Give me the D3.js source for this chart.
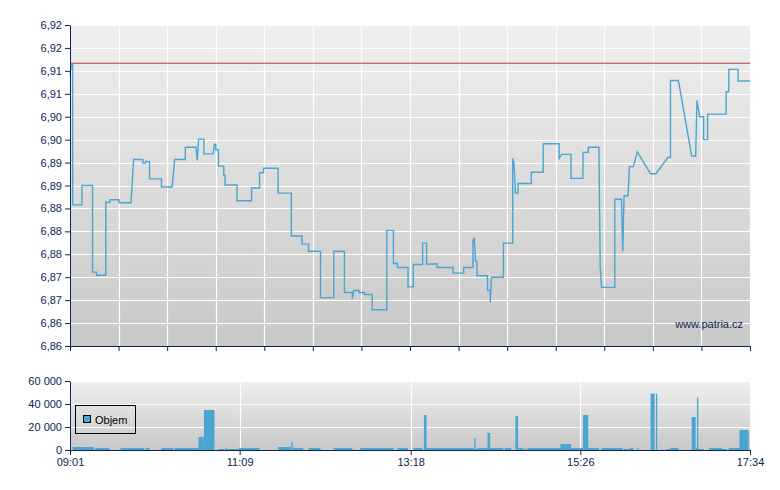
<!DOCTYPE html>
<html>
<head>
<meta charset="utf-8">
<script src="https://cdn.jsdelivr.net/npm/d3@7"></script>
<style>
body { margin: 0; background: #fff; }
svg text { font-family: "Liberation Sans", Arial, sans-serif; font-size: 11px; fill: #0c2557; }
</style>
</head>
<body>
<script>
// trades: time and price (line is drawn through them in order)
var priceTimes = [
  "09:01","09:02","09:03","09:03","09:10","09:10","09:18","09:18","09:21","09:21",
  "09:28","09:28","09:31","09:31","09:38","09:38","09:47","09:49","09:56","09:56",
  "09:58","09:58","10:01","10:01","10:10","10:10","10:18","10:20","10:28","10:28",
  "10:36","10:37","10:38","10:42","10:42","10:49","10:50","10:51","10:51","10:53",
  "10:53","10:57","10:57","10:58","10:58","11:07","11:07","11:18","11:18","11:24",
  "11:24","11:27","11:27","11:38","11:38","11:48","11:48","11:56","11:56","12:01",
  "12:01","12:10","12:10","12:20","12:20","12:28","12:28","12:34","12:34","12:35",
  "12:39","12:39","12:43","12:43","12:49","12:49","13:00","13:00","13:05","13:05",
  "13:08","13:08","13:16","13:16","13:20","13:20","13:27","13:27","13:30","13:30",
  "13:38","13:38","13:50","13:50","13:58","13:58","14:05","14:05","14:06","14:07",
  "14:08","14:08","14:16","14:16","14:18","14:18","14:19","14:28","14:28","14:35",
  "14:35","14:36","14:37","14:39","14:39","14:49","14:49","14:58","14:58","15:10",
  "15:10","15:12","15:19","15:19","15:28","15:28","15:32","15:32","15:40","15:41",
  "15:42","15:52","15:52","15:57","15:58","15:59","16:02","16:03","16:06","16:09",
  "16:19","16:23","16:32","16:34","16:34","16:40","16:50","16:53","16:54","16:56",
  "16:59","16:59","17:02","17:02","17:16","17:16","17:18","17:18","17:25","17:25",
  "17:34"
];
var prices = [
  6.9104,6.9124,6.9124,6.8849,6.8849,6.8887,6.8887,6.8717,6.8717,6.8711,
  6.8711,6.8854,6.8854,6.8859,6.8859,6.8853,6.8853,6.8938,6.8938,6.8931,
  6.8931,6.8934,6.8934,6.8900,6.8900,6.8884,6.8884,6.8938,6.8938,6.8962,
  6.8962,6.8936,6.8978,6.8978,6.8949,6.8949,6.8968,6.8968,6.8957,6.8957,
  6.8925,6.8925,6.8907,6.8907,6.8888,6.8888,6.8857,6.8857,6.8882,6.8882,
  6.8912,6.8912,6.8921,6.8921,6.8872,6.8872,6.8788,6.8788,6.8772,6.8772,
  6.8758,6.8758,6.8667,6.8667,6.8758,6.8758,6.8677,6.8677,6.8664,6.8681,
  6.8681,6.8677,6.8677,6.8673,6.8673,6.8643,6.8643,6.8799,6.8799,6.8734,
  6.8734,6.8726,6.8726,6.8688,6.8688,6.8732,6.8732,6.8774,6.8774,6.8733,
  6.8733,6.8726,6.8726,6.8715,6.8715,6.8726,6.8726,6.8780,6.8783,6.8738,
  6.8738,6.8710,6.8710,6.8681,6.8681,6.8658,6.8707,6.8707,6.8774,6.8774,
  6.8940,6.8931,6.8872,6.8872,6.8891,6.8891,6.8913,6.8913,6.8969,6.8969,
  6.8940,6.8948,6.8948,6.8901,6.8901,6.8952,6.8952,6.8962,6.8962,6.8729,
  6.8687,6.8687,6.8860,6.8860,6.8758,6.8867,6.8867,6.8924,6.8924,6.8953,
  6.8910,6.8910,6.8942,6.8942,6.9093,6.9093,6.8945,6.8945,6.9054,6.9022,
  6.9022,6.8977,6.8977,6.9027,6.9027,6.9071,6.9071,6.9115,6.9115,6.9092,
  6.9092
];
var prevClose = 6.9127;

var priceTicks = [6.8572,6.8617,6.8662,6.8707,6.8752,6.8797,6.8842,6.8887,
                  6.8932,6.8977,6.9022,6.9067,6.9112,6.9157,6.9202];

// volume bars: start, end, volume
var volStart = ["09:03","09:20","09:39","09:58","10:10","10:20","10:38","10:42","10:53","10:58",
                "10:59","11:08","11:38","11:48","11:49","12:01","12:20","12:40","13:08","13:20",
                "13:28","13:30","14:06","14:07","14:08","14:16","14:18","14:29","14:37","14:39",
                "14:44","14:46","15:11","15:19","15:28","15:32","15:42","15:59","16:03","16:09",
                "16:19","16:23","16:31","16:34","16:50","16:53","16:54","16:55","17:03","17:13",
                "17:18","17:26"];
var volEnd   = ["09:19","09:31","09:57","10:01","10:19","10:38","10:42","10:50","10:57","10:59",
                "11:08","11:24","11:48","11:49","11:57","12:10","12:34","13:05","13:16","13:27",
                "13:30","14:06","14:07","14:08","14:16","14:18","14:28","14:34","14:39","14:43",
                "14:45","15:11","15:19","15:28","15:32","15:40","15:58","16:03","16:06","16:10",
                "16:22","16:24","16:34","16:40","16:53","16:54","16:55","16:59","17:13","17:16",
                "17:26","17:33"];
var volumes  = [2600,1700,1700,1700,1700,1700,11300,34800,900,1700,
                900,1700,2600,7000,1700,1700,1700,1700,1700,1700,
                30400,1700,10400,900,1700,14800,1700,1700,29500,1700,
                1700,1700,5200,1700,30400,1700,1700,900,1700,1700,
                49000,49000,900,1700,28700,1700,45500,900,1700,900,
                1700,17400];
var volTicks = [0, 20000, 40000, 60000];
var timeLabels = ["09:01","11:09","13:18","15:26","17:34"];

var parseTime = d3.timeParse("%H:%M");
var fmtPrice = v => d3.format(".2f")(v).replace(".", ",");
var fmtVol = v => d3.format(",")(v).replace(/,/g, " ");

var svgWidth = 780, svgHeight = 490;
var left = 70, right = 750;
var priceTop = 25, priceBottom = 346;
var volTop = 381, volBottom = 450;
var axisColor = "#0c2557";
var blue = "#4aa6d1";

var svg = d3.select("body").append("svg")
    .attr("width", svgWidth)
    .attr("height", svgHeight);

var defs = svg.append("defs");
var grad = defs.append("linearGradient")
    .attr("id", "bg").attr("x1", 0).attr("y1", 0).attr("x2", 0).attr("y2", 1);
grad.append("stop").attr("offset", "0%").attr("stop-color", "#efefef");
grad.append("stop").attr("offset", "100%").attr("stop-color", "#c8c8c8");

var t0 = parseTime(timeLabels[0]), t1 = parseTime(timeLabels[timeLabels.length - 1]);
var x = d3.scaleTime().domain([t0, t1]).range([left, right]);
var y = d3.scaleLinear().domain([priceTicks[0], priceTicks[priceTicks.length - 1]])
    .range([priceBottom, priceTop]);
var yVol = d3.scaleLinear().domain([0, 60000]).range([volBottom, volTop]);

// 14 equal steps for the price chart grid
var gridTimes = d3.range(15).map(i => new Date(+t0 + i * (t1 - t0) / 14));

// ---------------- price chart ----------------
var priceG = svg.append("g");
priceG.append("rect")
    .attr("x", left).attr("y", priceTop)
    .attr("width", right - left).attr("height", priceBottom - priceTop)
    .attr("fill", "url(#bg)");

priceG.selectAll(".hgrid").data(priceTicks.slice(1)).enter()
    .append("line")
    .attr("x1", left).attr("x2", right)
    .attr("y1", d => Math.round(y(d)) + 0.5).attr("y2", d => Math.round(y(d)) + 0.5)
    .attr("stroke", "#fff").attr("stroke-width", 1.2);

priceG.selectAll(".vgrid").data(gridTimes.slice(1)).enter()
    .append("line")
    .attr("x1", d => Math.round(x(d)) + 0.5).attr("x2", d => Math.round(x(d)) + 0.5)
    .attr("y1", priceTop).attr("y2", priceBottom)
    .attr("stroke", "#fff").attr("stroke-width", 1.2);

priceG.append("line")
    .attr("x1", left).attr("x2", right)
    .attr("y1", y(prevClose)).attr("y2", y(prevClose))
    .attr("stroke", "#b8373a").attr("stroke-width", 1);

var trades = priceTimes.map((t, i) => ({t: parseTime(t), p: prices[i]}));
var line = d3.line().x(d => x(d.t)).y(d => y(d.p));
priceG.append("path")
    .datum(trades)
    .attr("d", line)
    .attr("fill", "none")
    .attr("stroke", blue)
    .attr("stroke-width", 1.4);

priceG.append("text")
    .attr("x", 743).attr("y", 328)
    .attr("text-anchor", "end")
    .text("www.patria.cz");

var yAxis = priceG.append("g")
    .attr("transform", `translate(${left},0)`)
    .call(d3.axisLeft(y).tickValues(priceTicks).tickFormat(fmtPrice)
        .tickSizeInner(5).tickSizeOuter(0).tickPadding(3));
var xAxisTop = priceG.append("g")
    .attr("transform", `translate(0,${priceBottom})`)
    .call(d3.axisBottom(x).tickValues(gridTimes).tickFormat("")
        .tickSizeInner(5).tickSizeOuter(0));

// ---------------- volume chart ----------------
var volG = svg.append("g");
volG.append("rect")
    .attr("x", left).attr("y", volTop)
    .attr("width", right - left).attr("height", volBottom - volTop)
    .attr("fill", "url(#bg)");

volG.selectAll(".hgrid").data(volTicks.slice(1)).enter()
    .append("line")
    .attr("x1", left).attr("x2", right)
    .attr("y1", d => Math.round(yVol(d)) + 0.5).attr("y2", d => Math.round(yVol(d)) + 0.5)
    .attr("stroke", "#fff").attr("stroke-width", 1.2);

var labelTimes = timeLabels.map(parseTime);
volG.selectAll(".vgrid").data(labelTimes.slice(1, -1)).enter()
    .append("line")
    .attr("x1", d => Math.round(x(d)) + 0.5).attr("x2", d => Math.round(x(d)) + 0.5)
    .attr("y1", volTop).attr("y2", volBottom)
    .attr("stroke", "#fff").attr("stroke-width", 1.2);

var bars = volumes.map((v, i) => ({s: parseTime(volStart[i]), e: parseTime(volEnd[i]), v: v}));
volG.selectAll(".bar").data(bars).enter()
    .append("rect")
    .attr("x", d => x(d.s))
    .attr("width", d => x(d.e) - x(d.s))
    .attr("y", d => yVol(d.v))
    .attr("height", d => volBottom - yVol(d.v))
    .attr("fill", blue);

volG.append("g")
    .attr("transform", `translate(${left},0)`)
    .call(d3.axisLeft(yVol).tickValues(volTicks).tickFormat(fmtVol)
        .tickSizeInner(5).tickSizeOuter(0).tickPadding(3));
volG.append("g")
    .attr("transform", `translate(0,${volBottom})`)
    .call(d3.axisBottom(x).tickValues(labelTimes).tickFormat(d3.timeFormat("%H:%M"))
        .tickSizeInner(5).tickSizeOuter(0).tickPadding(3));

// legend
var legend = volG.append("g");
legend.append("rect")
    .attr("x", 75.5).attr("y", 405.5).attr("width", 60).attr("height", 28)
    .attr("fill", "none").attr("stroke", "#000");
legend.append("rect")
    .attr("x", 83.5).attr("y", 415.5).attr("width", 7).attr("height", 7)
    .attr("fill", blue).attr("stroke", "#000");
legend.append("text")
    .attr("x", 95).attr("y", 424)
    .style("fill", "#000")
    .text("Objem");

// axis styling
svg.selectAll(".domain, .tick line").attr("stroke", axisColor);
svg.selectAll(".tick text").attr("fill", axisColor)
    .style("font-family", "'Liberation Sans', Arial, sans-serif").style("font-size", "11px");
</script>
</body>
</html>
